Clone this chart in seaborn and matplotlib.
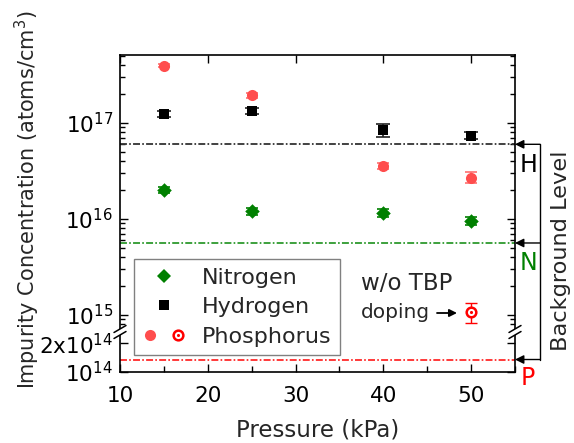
import numpy as np
import matplotlib
matplotlib.use("Agg")
import matplotlib.pyplot as plt
import seaborn as sns
from matplotlib.lines import Line2D
from matplotlib.legend_handler import HandlerTuple
from matplotlib.ticker import FixedLocator, FixedFormatter

# ---------------- data ----------------
pressure = [15, 25, 40, 50]
nitrogen = [2.02e16, 1.20e16, 1.15e16, 9.5e15]
nitrogen_err = [1.5e15, 1.0e15, 1.1e15, 9e14]
hydrogen = [1.25e17, 1.34e17, 8.5e16, 7.4e16]
hydrogen_err = [9e15, 1.0e16, 1.3e16, 6e15]
phosphorus = [3.95e17, 1.96e17, 3.55e16, 2.7e16]
phosphorus_err = [1.5e16, 1.2e16, 2.5e15, 3.5e15]
p_notbp_x = [50]
p_notbp_y = [1.07e15]
p_notbp_err = [2.5e14]
bg_levels = {"H": 6.0e16, "N": 5.6e15, "P": 1.35e14}
xticks_major = [10, 20, 30, 40, 50]
xticks_minor = [15, 25, 35, 45, 55]
yticks_major = [1e14, 2e14, 1e15, 1e16, 1e17]
ytick_labels = [r"$10^{14}$", r"2x$10^{14}$", r"$10^{15}$", r"$10^{16}$", r"$10^{17}$"]
yticks_minor = [8e14, 9e14] + [k * 1e15 for k in range(2, 10)] + \
               [k * 1e16 for k in range(2, 10)] + [k * 1e17 for k in range(2, 6)]

# ---------------- style ----------------
sns.set_theme(style="ticks")
FONT = "DejaVu Sans"
plt.rcParams["font.family"] = [FONT]
plt.rcParams["mathtext.fontset"] = "custom"
plt.rcParams["mathtext.rm"] = FONT
plt.rcParams["mathtext.it"] = FONT
plt.rcParams["lines.scale_dashes"] = False

C_N = "#008000"
C_H = "#000000"
C_P = "#ff4d4d"
C_P2 = "#ff0000"

fig = plt.figure(figsize=(5.74, 4.43), dpi=100)
W, H = 574, 443
ax = fig.add_axes([120 / W, 1 - 372 / H, 395 / W, 317 / H])

# broken log scale
LB, UB, CMP = np.log10(2.75e14), np.log10(7.0e14), 0.01
T1 = LB + (UB - LB) * CMP


def fwd(v):
    L = np.log10(np.clip(np.asarray(v, dtype=float), 1e-300, None))
    return np.where(L <= LB, L, np.where(L >= UB, T1 + (L - UB), LB + (L - LB) * CMP))


def inv(t):
    t = np.asarray(t, dtype=float)
    L = np.where(t <= LB, t, np.where(t >= T1, UB + (t - T1), LB + (t - LB) / CMP))
    return 10 ** L


ax.set_yscale("function", functions=(fwd, inv))
ax.set_xlim(10, 55)
YTOP = 5.13e17
ax.set_ylim(1e14, YTOP)

# background lines
DASH = (0, (5, 1.6, 1.2, 1.6))
ax.axhline(bg_levels["H"], color="#333333", lw=1.3, ls=DASH)
ax.axhline(bg_levels["N"], color="#2e9a2e", lw=1.3, ls=DASH)
ax.axhline(bg_levels["P"], color="#ff2a2a", lw=1.3, ls=DASH)

# error bars
ax.errorbar(pressure, nitrogen, yerr=nitrogen_err, fmt="none", ecolor=C_N, capsize=4, elinewidth=1.2, capthick=1.2)
ax.errorbar(pressure, hydrogen, yerr=hydrogen_err, fmt="none", ecolor="#222222", capsize=5, elinewidth=1.2, capthick=1.2)
ax.errorbar(pressure, phosphorus, yerr=phosphorus_err, fmt="none", ecolor="#ff7070", capsize=4.5, elinewidth=1.2, capthick=1.2)
ax.errorbar(p_notbp_x, p_notbp_y, yerr=p_notbp_err, fmt="none", ecolor=C_P2, capsize=4.5, elinewidth=1.0, capthick=1.0)

# markers via seaborn
sns.scatterplot(x=pressure, y=nitrogen, marker="D", color=C_N, s=55, linewidth=0, ax=ax, legend=False, zorder=5)
sns.scatterplot(x=pressure, y=hydrogen, marker="s", color=C_H, s=55, linewidth=0, ax=ax, legend=False, zorder=5)
sns.scatterplot(x=pressure, y=phosphorus, marker="o", color=C_P, s=64, linewidth=0, ax=ax, legend=False, zorder=5)
sns.scatterplot(x=p_notbp_x, y=p_notbp_y, marker="o", s=48, facecolor="white", edgecolor=C_P2, linewidth=1.8,
                ax=ax, legend=False, zorder=5)
sns.scatterplot(x=p_notbp_x, y=p_notbp_y, marker="o", s=5, color=C_P2, linewidth=0, ax=ax, legend=False, zorder=6)

# ticks
ax.xaxis.set_major_locator(FixedLocator(xticks_major))
ax.xaxis.set_minor_locator(FixedLocator(xticks_minor))
ax.yaxis.set_major_locator(FixedLocator(yticks_major))
ax.yaxis.set_major_formatter(FixedFormatter(ytick_labels))
ax.yaxis.set_minor_locator(FixedLocator(yticks_minor))
ax.yaxis.set_minor_formatter(FixedFormatter([""] * len(yticks_minor)))
ax.tick_params(which="both", direction="in", top=True, right=True, width=1, colors="black",
               labelcolor="black", labelsize=15.5)
ax.tick_params(which="major", length=6, pad=5)
ax.tick_params(which="minor", length=3.5)
ax.tick_params(axis="x", which="major", pad=10)
ax.tick_params(axis="x", which="minor", top=False, length=4)
for s in ax.spines.values():
    s.set_linewidth(1.2)
    s.set_color("black")

ax.set_xlabel("Pressure (kPa)", fontsize=16.5, labelpad=9)
fig.text(27 / W, 1 - 200 / H, r"Impurity Concentration (atoms/cm$^3$)", rotation=90,
         ha="center", va="center", fontsize=15)

# break marks on both spines
yb = 1 - (332 - 55) / 317
dx, dy = 6 / 395, 3.5 / 317
gap = 3 / 317
for xs in (0.0, 1.0):
    ax.fill([xs - dx, xs + dx, xs + dx, xs - dx],
            [yb - gap - dy, yb - gap + dy, yb + gap + dy, yb + gap - dy],
            color="white", transform=ax.transAxes, clip_on=False, zorder=10, lw=0)
    for off in (-gap, gap):
        ax.plot([xs - dx, xs + dx], [yb + off - dy, yb + off + dy], color="black", lw=1.1,
                transform=ax.transAxes, clip_on=False, zorder=11)

# background level bracket on the right
ytr = ax.get_yaxis_transform()
xb = (540 - 120) / 395
for key in ("H", "N", "P"):
    ax.annotate("", xy=(1.0, bg_levels[key]), xycoords=ytr, xytext=(xb, bg_levels[key]), textcoords=ytr,
                arrowprops=dict(arrowstyle="-|>", color="black", lw=1.0, mutation_scale=13,
                                shrinkA=0, shrinkB=0), annotation_clip=False)
ax.plot([xb, xb], [bg_levels["H"], bg_levels["P"]], color="black", lw=1.0, transform=ytr, clip_on=False)
fig.text(529 / W, 1 - 165 / H, "H", color="black", fontsize=17, ha="center", va="center")
fig.text(528 / W, 1 - 263 / H, "N", color=C_N, fontsize=17, ha="center", va="center")
fig.text(528 / W, 1 - 378 / H, "P", color=C_P2, fontsize=17, ha="center", va="center")
fig.text(561 / W, 1 - 251 / H, "Background Level", rotation=90, fontsize=16.2, ha="center", va="center")

# w/o TBP annotation
fig.text(361 / W, 1 - 283 / H, "w/o TBP", fontsize=16.5, ha="left", va="center")
fig.text(361 / W, 1 - 313 / H, "doping", fontsize=14.5, ha="left", va="center")
ax.annotate("", xy=(457 / W, 1 - 313 / H), xycoords="figure fraction", xytext=(437 / W, 1 - 313 / H),
            textcoords="figure fraction",
            arrowprops=dict(arrowstyle="-|>", color="black", lw=1.3, mutation_scale=11, shrinkA=0, shrinkB=0))

# legend
h_n = Line2D([], [], ls="none", marker="D", color=C_N, markersize=7.2, markeredgewidth=0)
h_h = Line2D([], [], ls="none", marker="s", color=C_H, markersize=7, markeredgewidth=0)
h_p1 = Line2D([], [], ls="none", marker="o", color=C_P, markersize=8, markeredgewidth=0)
h_p2 = Line2D([], [], ls="none", marker="o", markerfacecolor="white", markeredgecolor=C_P2,
              markersize=7, markeredgewidth=1.8)
h_p3 = Line2D([], [], ls="none", marker="o", color=C_P2, markersize=2.2, markeredgewidth=0)
p_handle = (h_p1, (h_p2, h_p3))
leg = ax.legend([h_n, h_h, p_handle], ["Nitrogen", "Hydrogen", "Phosphorus"],
                handler_map={p_handle: HandlerTuple(ndivide=None, pad=0.6)},
                loc="upper left", bbox_to_anchor=(134 / W, 1 - 259 / H), bbox_transform=fig.transFigure,
                fontsize=16, frameon=True, fancybox=False, edgecolor="#808080", framealpha=1,
                handlelength=1.9, handletextpad=0.75, borderpad=0.4, labelspacing=0.42, borderaxespad=0)
leg.get_frame().set_linewidth(1.0)
leg.set_zorder(4)

fig.savefig("out.png", dpi=100)
